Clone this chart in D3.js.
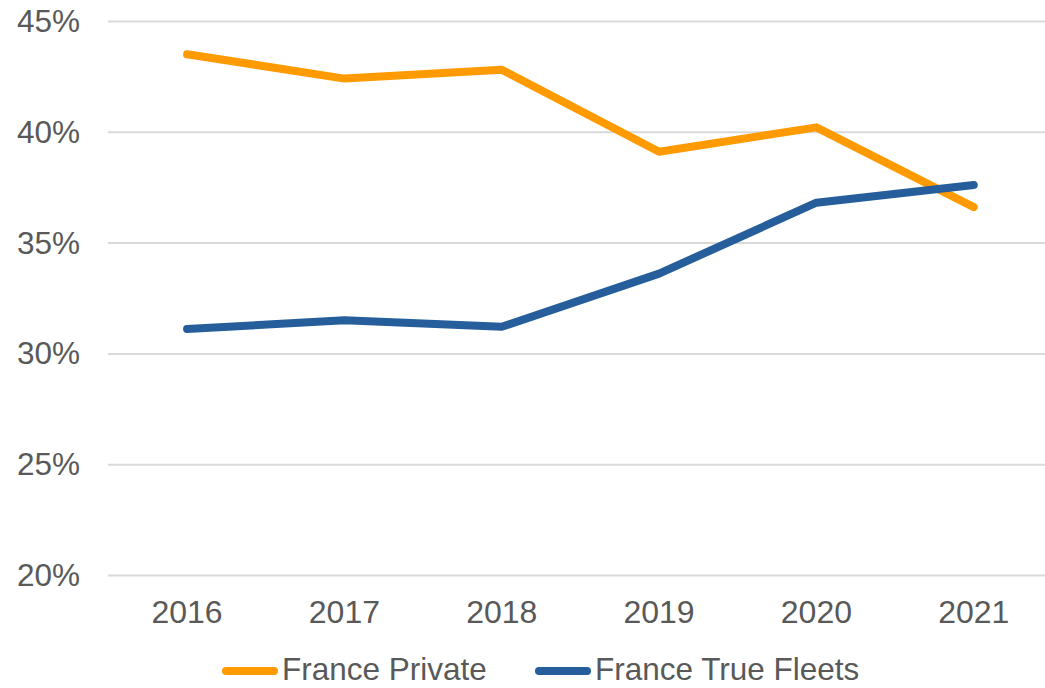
<!DOCTYPE html>
<html>
<head>
<meta charset="utf-8">
<script src="https://cdn.jsdelivr.net/npm/d3@7"></script>
<style>
  body { margin: 0; background: #fff; }
  svg text { font-family: "Liberation Sans", Arial, sans-serif; fill: #595959; }
</style>
</head>
<body>
<svg id="chart" width="1045" height="688"></svg>
<script>
'use strict';

var YEARS = ['2016', '2017', '2018', '2019', '2020', '2021'];
var PRIVATE = [43.5, 42.4, 42.8, 39.1, 40.2, 36.6];
var FLEETS = [31.1, 31.5, 31.2, 33.6, 36.8, 37.6];
var Y_TICKS = [20, 25, 30, 35, 40, 45];
var SERIES_NAMES = ['France Private', 'France True Fleets'];
var COLORS = ['#ff9a00', '#255e9a'];

drawChart();

function drawChart() {
    var svg = d3.select('#chart');

    var x = d3.scaleBand()
        .domain(YEARS)
        .range([108.4, 1052.4]);

    var y = d3.scaleLinear()
        .domain([20, 45])
        .range([575, 21]);

    // gridlines
    svg.append('g')
        .attr('transform', 'translate(108,0)')
        .call(d3.axisLeft(y).tickValues(Y_TICKS).tickSize(-944).tickFormat(''))
        .call(function(g) {
            g.select('.domain').remove();
            g.selectAll('line').attr('stroke', '#d9d9d9').attr('stroke-width', 2);
        });

    // y labels
    svg.append('g')
        .selectAll('text')
        .data(Y_TICKS)
        .enter().append('text')
        .attr('x', 80)
        .attr('y', function(d) { return y(d); })
        .attr('dy', '0.35em')
        .attr('text-anchor', 'end')
        .style('font-size', '31.5px')
        .text(function(d) { return d + '%'; });

    // x labels
    svg.append('g')
        .selectAll('text')
        .data(YEARS)
        .enter().append('text')
        .attr('x', function(d) { return x(d) + x.bandwidth() / 2; })
        .attr('y', 623)
        .attr('text-anchor', 'middle')
        .style('font-size', '32px')
        .text(function(d) { return d; });

    var line = d3.line()
        .x(function(d, i) { return x(YEARS[i]) + x.bandwidth() / 2; })
        .y(function(d) { return y(d); });

    [PRIVATE, FLEETS].forEach(function(values, i) {
        svg.append('path')
            .datum(values)
            .attr('fill', 'none')
            .attr('stroke', COLORS[i])
            .attr('stroke-width', 8)
            .attr('stroke-linejoin', 'round')
            .attr('stroke-linecap', 'round')
            .attr('d', line);
    });

    // legend
    var legendX = [222, 535];
    var legend = svg.append('g');
    SERIES_NAMES.forEach(function(name, i) {
        legend.append('line')
            .attr('x1', legendX[i] + 4)
            .attr('x2', legendX[i] + 52)
            .attr('y1', 671)
            .attr('y2', 671)
            .attr('stroke', COLORS[i])
            .attr('stroke-width', 8)
            .attr('stroke-linecap', 'round');
        legend.append('text')
            .attr('x', legendX[i] + 60)
            .attr('y', 669)
            .attr('dy', '0.35em')
            .style('font-size', '31.5px')
            .text(name);
    });
}
</script>
</body>
</html>
